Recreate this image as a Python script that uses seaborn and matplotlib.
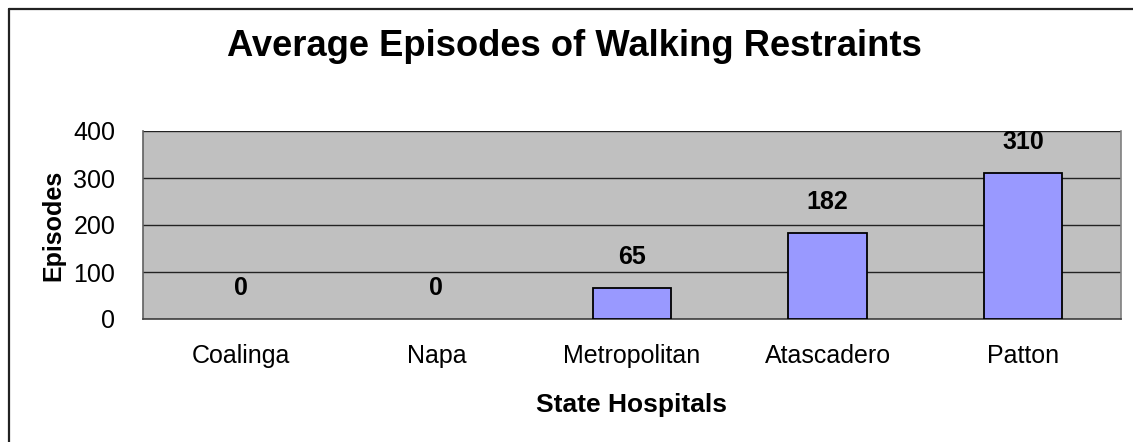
import matplotlib
matplotlib.use("Agg")
import matplotlib.pyplot as plt
from matplotlib.lines import Line2D
import seaborn as sns
import pandas as pd
import numpy as np

categories = ["Coalinga", "Napa", "Metropolitan", "Atascadero", "Patton"]
values = [0, 0, 65, 182, 310]
yticks = [0, 100, 200, 300, 400]
title = "Average Episodes of Walking Restraints"
xlabel = "State Hospitals"
ylabel = "Episodes"

sns.set_style("white")
plt.rcParams["font.family"] = ["Liberation Sans", "DejaVu Sans"]
plt.rcParams["text.color"] = "black"
plt.rcParams["axes.labelcolor"] = "black"
plt.rcParams["xtick.color"] = "black"
plt.rcParams["ytick.color"] = "black"

W, H = 1133, 442
fig = plt.figure(figsize=(W / 100, H / 100), dpi=100)
ax = fig.add_axes([143 / W, 1 - 319 / H, (1121 - 143) / W, (319 - 131) / H])

df = pd.DataFrame({"cat": categories, "val": values})
sns.barplot(data=df, x="cat", y="val", ax=ax, width=0.4, color="#9999FF",
            saturation=1, edgecolor="black", linewidth=1.3, zorder=3)
for patch, v in zip(ax.patches, values):
    if v == 0:
        patch.set_linewidth(0)

ax.set_facecolor("#C0C0C0")
ax.set_ylim(0, 400)
ax.set_xlim(-0.5, len(categories) - 0.5)
ax.set_yticks(yticks)
ax.yaxis.grid(True, color="#222222", linewidth=1.0, zorder=0)
ax.set_axisbelow(True)

ax.spines["top"].set_visible(False)
ax.spines["right"].set_color("#808080")
ax.spines["right"].set_linewidth(1.2)
ax.spines["left"].set_color("#606060")
ax.spines["left"].set_linewidth(1.2)
ax.spines["bottom"].set_color("#404040")
ax.spines["bottom"].set_linewidth(1.2)

ax.tick_params(axis="y", length=8, width=1, color="#222222", labelsize=18, pad=12)
ax.tick_params(axis="x", which="major", length=0, labelsize=18, pad=18)
ax.set_xticks(np.arange(-0.5, len(categories) + 0.5, 1), minor=True)
ax.tick_params(axis="x", which="minor", length=6, width=1, color="#222222", direction="out")

for i, v in enumerate(values):
    ax.annotate(str(v), (i, v), xytext=(0, 14), textcoords="offset points",
                ha="center", va="bottom", fontsize=18, fontweight="bold")

ax.set_xlabel(xlabel, fontsize=19, fontweight="bold", labelpad=18)
ax.set_ylabel(ylabel, fontsize=18, fontweight="bold", labelpad=6)

fig.text(574 / W, 1 - 46 / H, title, ha="center", va="center", fontsize=26.2, fontweight="bold")

fig.add_artist(Line2D([9 / W, 9 / W], [0, 1 - 9 / H], transform=fig.transFigure,
                      color="#222222", linewidth=1.6))
fig.add_artist(Line2D([9 / W, 1], [1 - 9 / H, 1 - 9 / H], transform=fig.transFigure,
                      color="#222222", linewidth=1.6))

fig.savefig("out.png", dpi=100, facecolor="white")
